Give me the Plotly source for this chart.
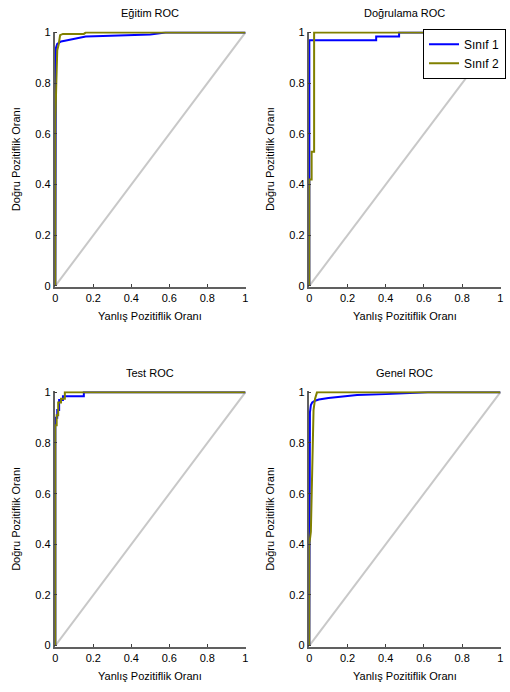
import plotly.graph_objects as go

# ---- data ----
titles = ["Eğitim ROC", "Doğrulama ROC", "Test ROC", "Genel ROC"]
class_names = ["Sınıf 1", "Sınıf 2"]
tick_vals = [0, 0.2, 0.4, 0.6, 0.8, 1]
tick_text = ["0", "0.2", "0.4", "0.6", "0.8", "1"]
diag_x = [0, 1]
diag_y = [0, 1]

train_c1_fpr = [0, 0, 0.003, 0.01, 0.02, 0.03, 0.05, 0.08, 0.12, 0.16, 0.25, 0.4, 0.5, 0.58, 1]
train_c1_tpr = [0, 0.73, 0.94, 0.955, 0.96, 0.965, 0.968, 0.973, 0.978, 0.985, 0.987, 0.99, 0.993, 1, 1]
train_c2_fpr = [0, 0, 0.005, 0.01, 0.018, 0.025, 0.04, 0.15, 0.16, 1]
train_c2_tpr = [0, 0.65, 0.8, 0.93, 0.955, 0.99, 0.995, 0.995, 1, 1]

val_c1_fpr = [0, 0, 0.35, 0.35, 0.47, 0.47, 1]
val_c1_tpr = [0, 0.97, 0.97, 0.985, 0.985, 1, 1]
val_c2_fpr = [0, 0, 0.012, 0.012, 0.025, 0.025, 1]
val_c2_tpr = [0, 0.42, 0.42, 0.53, 0.53, 1, 1]

test_c1_fpr = [0, 0, 0.01, 0.01, 0.02, 0.02, 0.04, 0.04, 0.15, 0.15, 1]
test_c1_tpr = [0, 0.9, 0.9, 0.93, 0.93, 0.97, 0.97, 0.985, 0.985, 1, 1]
test_c2_fpr = [0, 0, 0.007, 0.007, 0.015, 0.015, 0.03, 0.03, 0.05, 0.05, 1]
test_c2_tpr = [0, 0.87, 0.87, 0.91, 0.91, 0.96, 0.96, 0.975, 0.975, 1, 1]

all_c1_fpr = [0, 0, 0.003, 0.008, 0.015, 0.03, 0.05, 0.1, 0.15, 0.25, 0.4, 0.5, 0.62, 1]
all_c1_tpr = [0, 0.65, 0.92, 0.95, 0.96, 0.967, 0.972, 0.978, 0.983, 0.99, 0.993, 0.996, 1, 1]
all_c2_fpr = [0, 0, 0.008, 0.015, 0.022, 0.03, 0.04, 1]
all_c2_tpr = [0, 0.4, 0.45, 0.75, 0.93, 0.975, 1, 1]

curves = [
    (train_c1_fpr, train_c1_tpr, train_c2_fpr, train_c2_tpr),
    (val_c1_fpr, val_c1_tpr, val_c2_fpr, val_c2_tpr),
    (test_c1_fpr, test_c1_tpr, test_c2_fpr, test_c2_tpr),
    (all_c1_fpr, all_c1_tpr, all_c2_fpr, all_c2_tpr),
]

W, H = 510, 692
# axes boxes in pixels: (x0, x1, ytop, ybottom)
boxes = [(53, 246, 27, 286), (309, 503, 27, 286), (53, 246, 392, 651), (309, 503, 392, 651)]

FONT = "Liberation Sans, Arial, sans-serif"
BLUE = "#0000ff"
OLIVE = "#808000"
GRAY = "#c8c8c8"

fig = go.Figure()
annotations = []
layout_axes = {}

for i, (box, cur, title) in enumerate(zip(boxes, curves, titles)):
    x0, x1, yt, yb = box
    n = "" if i == 0 else str(i + 1)
    xa, ya = "x" + n, "y" + n
    layout_axes["xaxis" + n] = dict(
        domain=[x0 / W, x1 / W], anchor=ya, range=[-0.004, 1.004],
        tickvals=tick_vals, ticktext=tick_text, ticks="inside", ticklen=3,
        tickcolor="#404040", showline=True, linecolor="#606060", linewidth=1.5,
        showgrid=False, zeroline=False, tickfont=dict(family=FONT, size=11, color="#000"),
        fixedrange=True,
    )
    layout_axes["yaxis" + n] = dict(
        domain=[1 - yb / H, 1 - yt / H], anchor=xa, range=[-0.004, 1.004],
        tickvals=tick_vals, ticktext=tick_text, ticks="inside", ticklen=3,
        tickcolor="#404040", showline=True, linecolor="#606060", linewidth=1.5,
        showgrid=False, zeroline=False, tickfont=dict(family=FONT, size=11, color="#000"),
        fixedrange=True,
    )
    fig.add_trace(go.Scatter(x=diag_x, y=diag_y, mode="lines", xaxis=xa, yaxis=ya,
                             line=dict(color=GRAY, width=2), showlegend=False, hoverinfo="skip"))
    c1x, c1y, c2x, c2y = cur
    fig.add_trace(go.Scatter(x=c1x, y=c1y, mode="lines", xaxis=xa, yaxis=ya, name=class_names[0],
                             line=dict(color=BLUE, width=2), showlegend=(i == 1), legendrank=1))
    fig.add_trace(go.Scatter(x=c2x, y=c2y, mode="lines", xaxis=xa, yaxis=ya, name=class_names[1],
                             line=dict(color=OLIVE, width=2), showlegend=(i == 1), legendrank=2))
    cx = (x0 + x1) / 2
    annotations.append(dict(text=title, x=cx / W, y=1 - (yt - 19) / H, xref="paper", yref="paper",
                            xanchor="center", yanchor="middle", showarrow=False,
                            font=dict(family=FONT, size=11, color="#000")))
    annotations.append(dict(text="Yanlış Pozitiflik Oranı", x=cx / W, y=1 - (yb + 30) / H,
                            xref="paper", yref="paper", xanchor="center", yanchor="middle",
                            showarrow=False, font=dict(family=FONT, size=11, color="#000")))
    annotations.append(dict(text="Doğru Pozitiflik Oranı", x=(x0 - 39) / W, y=1 - ((yt + yb) / 2) / H,
                            xref="paper", yref="paper", xanchor="center", yanchor="middle",
                            textangle=-90, showarrow=False,
                            font=dict(family=FONT, size=11, color="#000")))

fig.update_layout(
    width=W, height=H, margin=dict(l=0, r=0, t=0, b=0),
    paper_bgcolor="white", plot_bgcolor="white",
    annotations=annotations,
    legend=dict(x=508 / W, xanchor="right", y=1 - 24 / H, yanchor="top",
                bgcolor="white", bordercolor="black", borderwidth=1,
                font=dict(family=FONT, size=12, color="#000"), itemwidth=30,
                tracegroupgap=0),
    **layout_axes,
)

fig.write_html("out.html")
